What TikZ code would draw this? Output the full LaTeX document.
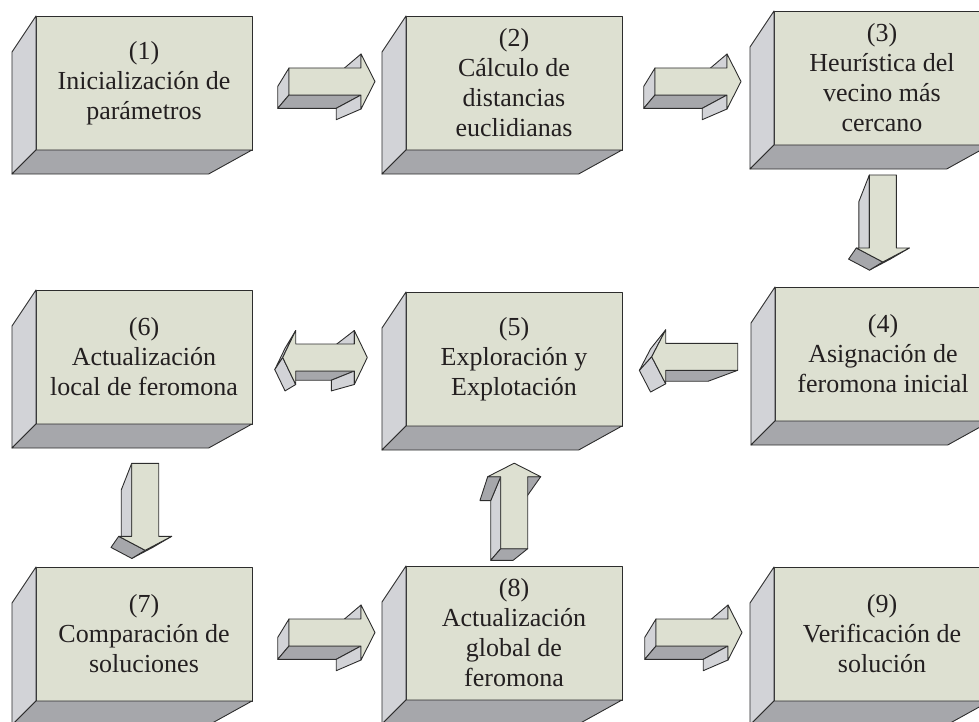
\documentclass[tikz,border=0pt]{standalone}
\usepackage{fontspec}
\setmainfont{Liberation Serif}
\usetikzlibrary{calc}

\definecolor{frontc}{RGB}{221,224,209}
\definecolor{lightc}{RGB}{210,211,215}
\definecolor{darkc}{RGB}{166,167,171}
\definecolor{edgec}{RGB}{45,45,45}
\definecolor{textc}{RGB}{35,31,32}

\tikzset{
  frontface/.style={fill=frontc, draw=edgec, line width=0.9pt, line join=round},
  lightface/.style={fill=lightc, draw=edgec, line width=0.9pt, line join=round},
  darkface/.style={fill=darkc, draw=edgec, line width=0.9pt, line join=round},
  stepbox/.style={frontface, minimum width=216, minimum height=134,
    inner sep=0pt, outer sep=0pt, align=center, text=textc,
    font=\fontsize{26}{30}\selectfont},
}

% point pushed back toward the vanishing point V by the fraction \tval
\newcommand\bk[1]{\coordinate (#1b) at ($(#1)!\tval!(V)$);}

% left and bottom faces of a perspective block behind a front node
\newcommand\boxsides[1]{%
  \coordinate (V) at ($(#1.north west)+(-268,402)$);
  \def\tval{0.0896}%
  \coordinate (nwb) at ($(#1.north west)!\tval!(V)$);
  \coordinate (swb) at ($(#1.south west)!\tval!(V)$);
  \coordinate (seb) at ($(#1.south east)!\tval!(V)$);
  \filldraw[lightface] (#1.north west) -- (#1.south west) -- (swb) -- (nwb) -- cycle;
  \filldraw[darkface] (#1.south west) -- (#1.south east) -- (seb) -- (swb) -- cycle;
}

% block arrow pointing right; #1,#2 = top-left corner of the shaft
\newcommand\rightblock[2]{%
  \begin{scope}[shift={(#1,#2)}]
    \coordinate (A) at (0,0);   \coordinate (B) at (72,0);
    \coordinate (C) at (72,-14); \coordinate (D) at (86,13.5);
    \coordinate (E) at (72,41); \coordinate (F) at (72,27);
    \coordinate (G) at (0,27);  \coordinate (V) at (-60,98);
    \def\tval{0.1875}%
    \bk{A}\bk{B}\bk{C}\bk{E}\bk{F}\bk{G}
    \filldraw[lightface] (B) -- (C) -- (Cb) -- (Bb) -- cycle;
    \filldraw[lightface] (A) -- (G) -- (Gb) -- (Ab) -- cycle;
    \filldraw[darkface] (G) -- (F) -- (Fb) -- (Gb) -- cycle;
    \filldraw[lightface] (F) -- (E) -- (Eb) -- (Fb) -- cycle;
    \filldraw[frontface] (A) -- (B) -- (C) -- (D) -- (E) -- (F) -- (G) -- cycle;
  \end{scope}}

% block arrow pointing down; #1,#2 = top-left corner of the shaft
\newcommand\downblock[2]{%
  \begin{scope}[shift={(#1,#2)}]
    \coordinate (A) at (0,0);    \coordinate (B) at (27,0);
    \coordinate (C) at (27,73);  \coordinate (D) at (40,73);
    \coordinate (E) at (13.5,87); \coordinate (Fp) at (-13,73);
    \coordinate (G) at (0,73);   \coordinate (V) at (-49,125);
    \def\tval{0.214}%
    \bk{A}\bk{D}\bk{E}\bk{Fp}\bk{G}
    \filldraw[lightface] (E) -- (D) -- (Db) -- (Eb) -- cycle;
    \filldraw[lightface] (A) -- (G) -- (Gb) -- (Ab) -- cycle;
    \filldraw[darkface] (Fp) -- (E) -- (Eb) -- (Fpb) -- cycle;
    \filldraw[frontface] (A) -- (B) -- (C) -- (D) -- (E) -- (Fp) -- (G) -- cycle;
  \end{scope}}

% block arrow pointing up; #1 = left side of the shaft, #2 = height of the barbs
\newcommand\upblock[2]{%
  \begin{scope}[shift={(#1,#2)}]
    \coordinate (A) at (0,72);   \coordinate (B) at (27,72);
    \coordinate (C) at (27,0);   \coordinate (D) at (40,0);
    \coordinate (E) at (13.5,-13.5); \coordinate (F) at (-13,0);
    \coordinate (G) at (0,0);    \coordinate (V) at (-58.7,140.3);
    \def\tval{0.17}%
    \bk{A}\bk{B}\bk{C}\bk{D}\bk{F}\bk{G}
    \filldraw[lightface] (G) -- (A) -- (Ab) -- (Gb) -- cycle;
    \filldraw[darkface] (F) -- (G) -- (Gb) -- (Fb) -- cycle;
    \filldraw[darkface] (C) -- (D) -- (Db) -- (Cb) -- cycle;
    \filldraw[darkface] (A) -- (B) -- (Bb) -- (Ab) -- cycle;
    \filldraw[frontface] (A) -- (B) -- (C) -- (D) -- (E) -- (F) -- (G) -- cycle;
  \end{scope}}

% block arrow pointing left; #1,#2 = top-right corner of the shaft
\newcommand\leftblock[2]{%
  \begin{scope}[shift={(#1,#2)}]
    \coordinate (A) at (0,0);     \coordinate (B) at (-72,0);
    \coordinate (C) at (-72,-13.5); \coordinate (D) at (-86,13.5);
    \coordinate (E) at (-72,40.5); \coordinate (F) at (-72,27);
    \coordinate (G) at (0,27);    \coordinate (V) at (-147.7,81.7);
    \def\tval{0.2}%
    \bk{C}\bk{D}\bk{E}\bk{F}\bk{G}
    \filldraw[darkface] (F) -- (G) -- (Gb) -- (Fb) -- cycle;
    \filldraw[lightface] (C) -- (D) -- (Db) -- (Cb) -- cycle;
    \filldraw[lightface] (D) -- (E) -- (Eb) -- (Db) -- cycle;
    \filldraw[frontface] (A) -- (B) -- (C) -- (D) -- (E) -- (F) -- (G) -- cycle;
  \end{scope}}

% two-headed block arrow; #1,#2 = top-left corner of the shaft
\newcommand\bothblock[2]{%
  \begin{scope}[shift={(#1,#2)}]
    \coordinate (A) at (0,0);       \coordinate (B) at (58.6,0);
    \coordinate (C) at (58.6,-13.5); \coordinate (D) at (71.6,13.5);
    \coordinate (E) at (58.6,40.5); \coordinate (F) at (58.6,27);
    \coordinate (G) at (0,27);      \coordinate (H) at (0,40.5);
    \coordinate (I) at (-13,13.5);  \coordinate (J) at (0,-13.5);
    \coordinate (V) at (-50.7,71);
    \def\tval{0.21}%
    \bk{B}\bk{C}\bk{E}\bk{F}\bk{G}\bk{H}\bk{I}\bk{J}
    \filldraw[lightface] (B) -- (C) -- (Cb) -- (Bb) -- cycle;
    \filldraw[darkface] (G) -- (F) -- (Fb) -- (Gb) -- cycle;
    \filldraw[lightface] (F) -- (E) -- (Eb) -- (Fb) -- cycle;
    \filldraw[lightface] (J) -- (I) -- (Ib) -- (Jb) -- cycle;
    \filldraw[lightface] (I) -- (H) -- (Hb) -- (Ib) -- cycle;
    \filldraw[frontface] (A) -- (B) -- (C) -- (D) -- (E) -- (F) -- (G)
      -- (H) -- (I) -- (J) -- cycle;
  \end{scope}}

\begin{document}
\begin{tikzpicture}[x=1pt,y=-1pt]
\useasboundingbox (0,0) rectangle (979,722);
\clip (0,0) rectangle (979,722);

% first row
\node[stepbox] (b1) at (144,83) {(1)\\Inicialización de\\parámetros};
\boxsides{b1}
\node[stepbox] (b2) at (514,83) {(2)\\Cálculo de\\distancias\\euclidianas};
\boxsides{b2}
\node[stepbox] (b3) at (882,78) {(3)\\Heurística del\\vecino más\\cercano};
\boxsides{b3}

% second row
\node[stepbox] (b6) at (144,357) {(6)\\Actualización\\local de feromona};
\boxsides{b6}
\node[stepbox] (b5) at (514,359) {(5)\\Exploración y\\Explotación};
\boxsides{b5}
\node[stepbox] (b4) at (883,354) {(4)\\Asignación de\\feromona inicial};
\boxsides{b4}

% third row
\node[stepbox] (b7) at (144,634) {(7)\\Comparación de\\soluciones};
\boxsides{b7}
\node[stepbox] (b8) at (514,633) {(8)\\Actualización\\global de\\feromona};
\boxsides{b8}
\node[stepbox] (b9) at (882,634) {(9)\\Verificación de\\solución};
\boxsides{b9}

% flow arrows
\rightblock{289}{68}
\rightblock{655}{68}
\downblock{869.3}{175}
\leftblock{737.7}{343.3}
\bothblock{295.7}{344}
\downblock{131.7}{463.3}
\upblock{500.7}{476.7}
\rightblock{289}{619}
\rightblock{656}{619}
\end{tikzpicture}
\end{document}
